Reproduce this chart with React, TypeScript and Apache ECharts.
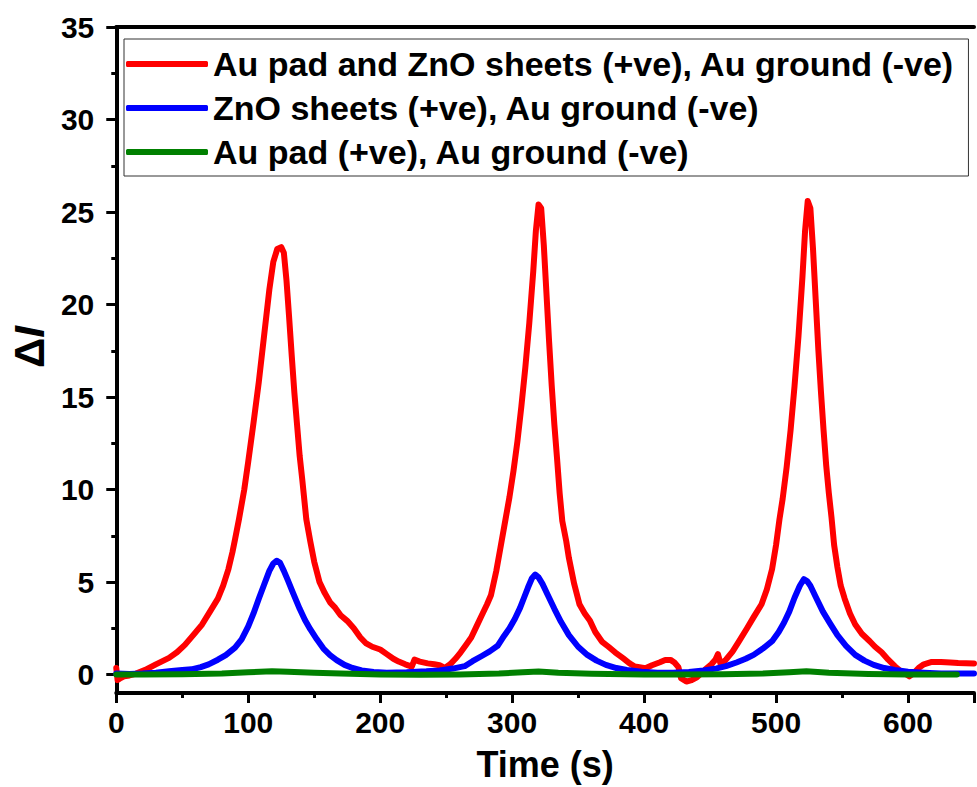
import React, { useEffect, useRef } from "react";
import * as echarts from "echarts";

const FONT = "'Liberation Sans', Arial, Helvetica, sans-serif";

const seriesNames = [
  "Au pad and ZnO sheets (+ve), Au ground (-ve)",
  "ZnO sheets (+ve), Au ground (-ve)",
  "Au pad (+ve), Au ground (-ve)",
];

const redTime = [
  0, 1, 3, 6, 10, 15, 22, 30, 40, 46, 52, 58, 65, 71, 77, 81, 85, 88, 90, 93, 97, 100, 104, 108, 112, 116, 119, 122,
  125, 127, 129, 131, 133, 135, 137, 139, 141, 144, 147, 150, 154, 158, 162, 166, 170, 175, 180, 185, 189, 194, 200,
  205, 210, 214, 219, 224, 226, 230, 236, 241, 245, 249, 253, 257, 261, 265, 269, 273, 277, 281, 284, 288, 291, 295,
  298, 301, 304, 307, 310, 313, 316, 318, 320, 322, 324, 326, 328, 330, 332, 334, 336, 338, 341, 343, 347, 351, 355,
  359, 363, 368, 373, 378, 384, 389, 393, 401, 406, 412, 416, 420, 423, 426, 428, 432, 436, 440, 446, 451, 454, 456,
  458, 462, 467, 472, 478, 483, 489, 493, 497, 500, 502.6, 505, 508, 511, 514, 517, 520, 522, 524, 526, 528, 530, 532,
  534, 536, 538, 540, 542, 544, 546.5, 549, 552, 556, 560, 565, 571, 575, 580, 585, 590, 595, 599, 601, 604, 608, 612,
  618, 625, 632, 638, 650,
];
const redValues = [
  0.35, -0.3, -0.2, -0.1, -0.05, 0.05, 0.25, 0.55, 0.9, 1.2, 1.6, 2.1, 2.7, 3.4, 4.1, 4.8, 5.7, 6.6, 7.3, 8.4, 10,
  11.5, 13.6, 15.8, 18.3, 20.8, 22.3, 23.0, 23.1, 22.8, 21.3, 19.3, 17.2, 15.2, 13.5, 11.8, 10.5, 8.4, 7.2, 6.1, 5.0,
  4.4, 3.9, 3.6, 3.2, 2.9, 2.5, 2.0, 1.7, 1.5, 1.35, 1.1, 0.85, 0.7, 0.55, 0.43, 0.8, 0.7, 0.6, 0.55, 0.5, 0.35, 0.55,
  0.85, 1.2, 1.6, 2.0, 2.6, 3.2, 3.8, 4.3, 5.6, 6.8, 8.4, 9.6, 11, 12.6, 14.5, 16.6, 19.0, 21.8, 24, 25.4, 25.2, 23.2,
  20.6, 18, 15.6, 13.5, 11.7, 9.8, 8.3, 7.2, 6.3, 4.9, 3.8, 3.3, 2.9, 2.3, 1.78, 1.5, 1.2, 0.88, 0.6, 0.43, 0.34, 0.5,
  0.66, 0.78, 0.79, 0.65, 0.4, -0.2, -0.38, -0.3, -0.15, 0.25, 0.55, 0.8, 1.1, 0.55, 0.8, 1.24, 1.8, 2.5, 3.1, 3.8,
  4.6, 5.7, 7.0, 8.4, 9.5, 11.2, 13.2, 15.6, 18.3, 21.5, 24, 25.6, 25.2, 23, 20.3, 17.6, 15.3, 13.2, 11.3, 9.8, 8.5, 7,
  5.8, 4.8, 4.1, 3.3, 2.7, 2.2, 1.8, 1.5, 1.2, 0.8, 0.45, 0.15, 0.0, -0.1, 0.05, 0.35, 0.55, 0.68, 0.68, 0.65, 0.62,
  0.6,
];

const blueTime = [
  0, 10, 20, 30, 40, 50, 57, 64, 70, 77, 83, 90, 95, 100, 104, 108, 112, 116, 119, 121.5, 124, 127, 130, 134, 139, 143,
  147, 152, 157, 162, 167, 173, 179, 186, 195, 205, 220, 235, 245, 255, 264, 270, 277, 283, 289, 294, 298, 302, 306,
  309, 312, 315, 317.5, 320, 323, 327, 332, 337, 343, 350, 357, 364, 371, 379, 387, 398, 410, 422, 434, 445, 455, 462,
  470, 477, 483, 490, 497, 502, 506, 510, 514, 518, 521, 523.5, 526, 530, 535.5, 541, 546.5, 553, 560, 567, 574, 582,
  590, 600, 612, 625, 650,
];
const blueValues = [
  0.05, 0.03, 0.05, 0.1, 0.18, 0.25, 0.28, 0.4, 0.55, 0.8, 1.05, 1.45, 1.9, 2.6, 3.3, 4.1, 4.85, 5.6, 6.0, 6.15, 6.05,
  5.6, 5.1, 4.4, 3.55, 2.95, 2.45, 1.9, 1.4, 1.05, 0.78, 0.52, 0.35, 0.22, 0.13, 0.1, 0.12, 0.17, 0.22, 0.32, 0.45,
  0.72, 1.0, 1.25, 1.55, 2.1, 2.5, 3.0, 3.6, 4.15, 4.7, 5.2, 5.4, 5.25, 4.9, 4.3, 3.55, 2.85, 2.13, 1.5, 1.06, 0.75,
  0.52, 0.35, 0.25, 0.15, 0.1, 0.1, 0.13, 0.22, 0.33, 0.45, 0.65, 0.85, 1.06, 1.4, 1.8, 2.3, 2.8, 3.4, 4.15, 4.8, 5.15,
  5.05, 4.8, 4.2, 3.4, 2.75, 2.13, 1.55, 1.06, 0.75, 0.52, 0.35, 0.25, 0.15, 0.1, 0.06, 0.05,
];

const greenTime = [
  0, 20, 50, 80, 100, 118, 130, 150, 170, 200, 230, 260, 290, 308, 320, 335, 360, 400, 430, 460, 490, 510, 523, 540,
  570, 600, 637,
];
const greenValues = [
  0.0, 0.0, 0.02, 0.06, 0.12, 0.17, 0.15, 0.1, 0.05, 0.0, -0.02, 0.0, 0.05, 0.12, 0.16, 0.1, 0.04, 0.0, 0.0, 0.02,
  0.06, 0.12, 0.17, 0.1, 0.03, 0.0, 0.0,
];

const xMajorTicks = [0, 100, 200, 300, 400, 500, 600];
const yMajorTicks = [0, 5, 10, 15, 20, 25, 30, 35];
const yMinorTicks = [2.5, 7.5, 12.5, 17.5, 22.5, 27.5, 32.5];

const zip = (xs: number[], ys: number[]) => xs.map((x, i) => [x, ys[i]]);

export default function App() {
  const ref = useRef<HTMLDivElement>(null);
  useEffect(() => {
    if (!ref.current) return;
    const chart = echarts.init(ref.current, null, { renderer: "svg" });
    const black = "#000";
    const labelStyle = { fontSize: 30, fontWeight: "bold" as const, color: black, fontFamily: FONT };
    chart.setOption({
      animation: false,
      backgroundColor: "#fff",
      grid: { left: 113, top: 27, right: -7, bottom: 93 },
      legend: {
        orient: "vertical",
        left: 124,
        top: 39,
        padding: [7, 14, 6, 2],
        itemGap: 8,
        itemWidth: 82,
        itemHeight: 6,
        itemTextGap: 8,
        icon: "roundRect",
        borderColor: "#333",
        borderWidth: 1,
        backgroundColor: "#fff",
        data: seriesNames,
        textStyle: { fontSize: 34, fontWeight: "bold", color: black, fontFamily: FONT, lineHeight: 36 },
      },
      xAxis: [
        {
          type: "value",
          position: "bottom",
          min: 0,
          max: 650,
          interval: 100,
          axisLine: { onZero: false, lineStyle: { color: black, width: 4 } },
          axisTick: { length: 10, lineStyle: { color: black, width: 3 } },
          splitLine: { show: false },
          axisLabel: {
            ...labelStyle,
            margin: 14,
            formatter: (v: number) => (xMajorTicks.includes(v) ? String(v) : ""),
          },
          name: "Time (s)",
          nameLocation: "middle",
          nameGap: 53,
          nameTextStyle: { fontSize: 36, fontWeight: "bold", color: black, fontFamily: FONT },
        },
        {
          type: "value",
          position: "bottom",
          min: 0,
          max: 650,
          interval: 50,
          axisLine: { show: false, onZero: false },
          axisTick: { length: 5, lineStyle: { color: black, width: 3 } },
          axisLabel: { show: false },
          splitLine: { show: false },
        },
        {
          type: "value",
          position: "top",
          min: 0,
          max: 650,
          axisLine: { onZero: false, lineStyle: { color: black, width: 4 } },
          axisTick: { show: false },
          axisLabel: { show: false },
          splitLine: { show: false },
        },
      ],
      yAxis: [
        {
          type: "value",
          position: "left",
          min: -1,
          max: 35,
          axisLine: { onZero: false, lineStyle: { color: black, width: 4 } },
          axisTick: { length: 10, customValues: yMajorTicks, lineStyle: { color: black, width: 3 } },
          splitLine: { show: false },
          axisLabel: {
            ...labelStyle,
            margin: 22,
            customValues: yMajorTicks,
            formatter: (v: number) => (yMajorTicks.includes(v) ? String(v) : ""),
          },
          name: "{d|Δ}{i|I}",
          nameLocation: "middle",
          nameGap: 62,
          nameRotate: 90,
          nameTextStyle: {
            fontSize: 42,
            fontWeight: "bold",
            color: black,
            fontFamily: FONT,
            padding: [0, 0, 0, 26],
            rich: {
              d: { fontSize: 42, fontWeight: "bold", color: black, fontFamily: FONT },
              i: { fontSize: 42, fontWeight: "bold", fontStyle: "italic", color: black, fontFamily: FONT },
            },
          },
        },
        {
          type: "value",
          position: "left",
          min: -1,
          max: 35,
          axisLine: { show: false, onZero: false },
          axisTick: { length: 5, customValues: yMinorTicks, lineStyle: { color: black, width: 3 } },
          axisLabel: { show: false },
          splitLine: { show: false },
        },
      ],
      series: [
        {
          name: seriesNames[0],
          type: "line",
          data: zip(redTime, redValues),
          showSymbol: false,
          symbol: "none",
          color: "#ff0000",
          lineStyle: { width: 6, color: "#ff0000", join: "round", cap: "round" },
          z: 2,
        },
        {
          name: seriesNames[1],
          type: "line",
          data: zip(blueTime, blueValues),
          showSymbol: false,
          symbol: "none",
          color: "#0000ff",
          lineStyle: { width: 6, color: "#0000ff", join: "round", cap: "round" },
          z: 3,
        },
        {
          name: seriesNames[2],
          type: "line",
          data: zip(greenTime, greenValues),
          showSymbol: false,
          symbol: "none",
          color: "#008000",
          lineStyle: { width: 6, color: "#008000", join: "round", cap: "round" },
          z: 4,
        },
      ],
    });
    return () => chart.dispose();
  }, []);
  return (
    <div
      ref={ref}
      style={{ position: "absolute", left: 0, top: 0, width: 977, height: 787, overflow: "hidden" }}
    />
  );
}
